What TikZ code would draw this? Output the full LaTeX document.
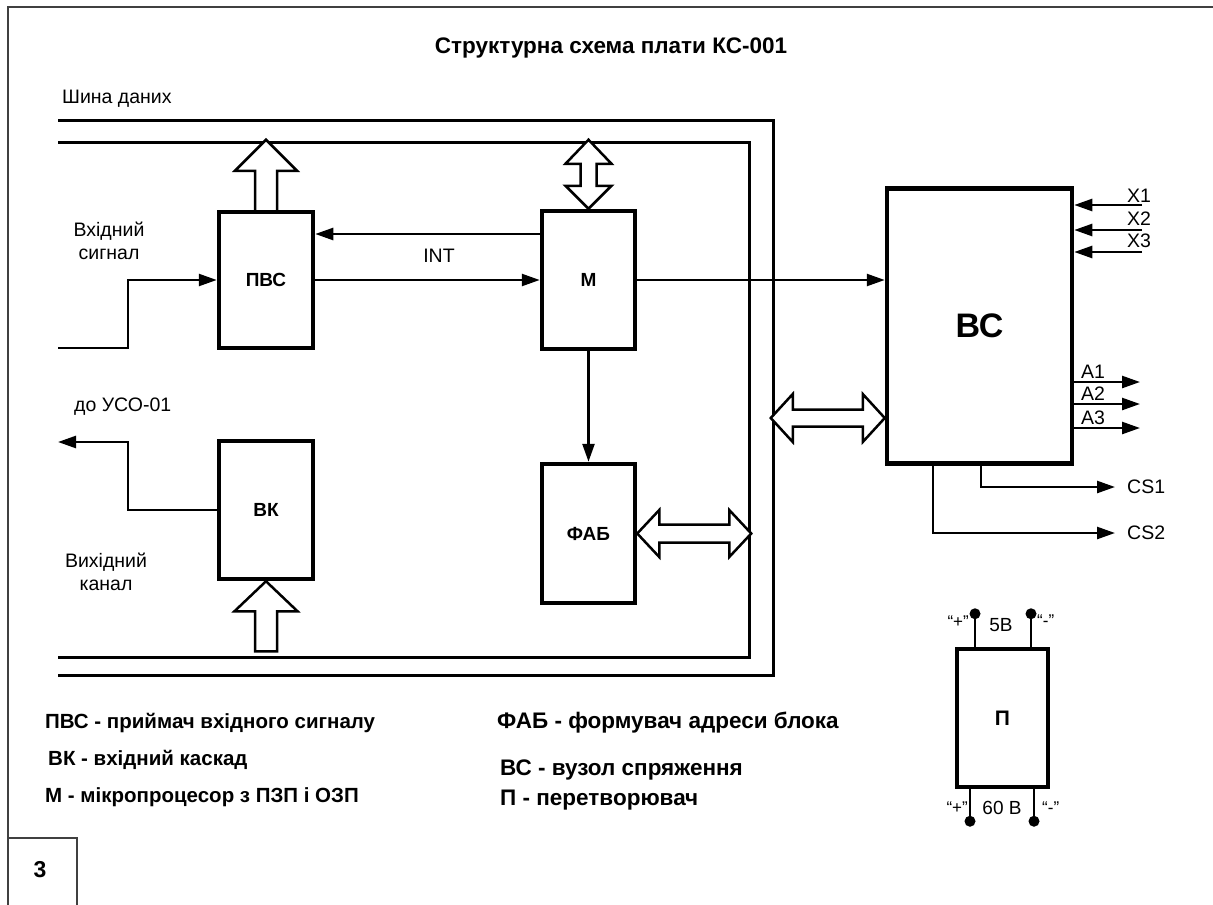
\documentclass[tikz,border=0pt]{standalone}
\usepackage{fontspec}
\setmainfont{Liberation Sans}
\usetikzlibrary{arrows.meta,calc}
\tikzset{
  blk/.style={draw,line width=4.5pt,inner sep=0pt,font=\fontsize{19}{22}\selectfont\bfseries},
  conn/.style={line width=2.5pt},
  sig/.style={line width=2.5pt,-{Triangle[length=18pt,width=12pt]}},
  bus/.style={line width=3pt},
  hol/.style={draw,line width=2.5pt,fill=white,line join=miter},
  txt/.style={inner sep=0pt,font=\fontsize{19.5}{23}\selectfont},
  small/.style={inner sep=0pt,font=\fontsize{19}{22}\selectfont},
  tiny/.style={inner sep=0pt,font=\fontsize{17}{19}\selectfont},
  leg/.style={inner sep=0pt,anchor=west,font=\fontsize{20.5}{24}\selectfont\bfseries},
  legr/.style={inner sep=0pt,anchor=west,font=\fontsize{22.5}{26}\selectfont\bfseries},
  frm/.style={line width=2pt,draw=black!75}
}
\begin{document}
\begin{tikzpicture}[x=1pt,y=-1pt]
\useasboundingbox (0,0) rectangle (1213,905);
% page frame
\draw[frm] (1213,7) -- (8,7) -- (8,905);
\draw[line width=1.2pt,draw=black!75] (8,838) -- (77,838) -- (77,905);
\node[inner sep=0pt,font=\fontsize{23}{26}\selectfont\bfseries] (num) at (40,870) {3};
% title
\node[inner sep=0pt,font=\fontsize{22.5}{26}\selectfont\bfseries] (title) at (611,48) {Структурна схема плати КС-001};
\node[txt,anchor=west] (bustxt) at (62,99) {Шина даних};
% data bus
\draw[bus] (58,120) -| (773,675) -- (58,675);
\draw[bus] (58,142) -| (749,657) -- (58,657);
% blocks
\node[blk,minimum width=94,minimum height=136] (pvs) at (266,280) {ПВС};
\node[blk,minimum width=93,minimum height=138] (m) at (588.5,280) {М};
\node[blk,minimum width=93,minimum height=139] (fab) at (588.5,533.5) {ФАБ};
\node[blk,minimum width=94,minimum height=138] (vk) at (266,510) {ВК};
\node[blk,minimum width=185,minimum height=275,font=\fontsize{34}{38}\selectfont\bfseries] (vs) at (979.5,326) {ВС};
\node[blk,minimum width=91,minimum height=138,font=\fontsize{21}{24}\selectfont\bfseries] (p) at (1002.5,718) {П};
% hollow arrows
\draw[hol] ($(pvs.north)+(-11,0)$) -- ++(0,-39) -- ++(-20,0) -- ($(pvs.north)+(0,-70)$) -- ++(31,31) -- ++(-20,0) -- ($(pvs.north)+(11,0)$);
\draw[hol] (m.north) -- ++(-23,-23) -- ++(15,0) -- ++(0,-22) -- ++(-15,0) -- ++(23,-24) -- ++(23,24) -- ++(-15,0) -- ++(0,22) -- ++(15,0) -- cycle;
\draw[hol] (fab.east) -- ++(22,-23.5) -- ++(0,14.5) -- ++(70,0) -- ++(0,-14.5) -- ++(22,23.5) -- ++(-22,23.5) -- ++(0,-14.5) -- ++(-70,0) -- ++(0,14.5) -- cycle;
\draw[hol] (vs.west |- 0,418) -- ++(-22,-24) -- ++(0,15.5) -- ++(-70,0) -- ++(0,-15.5) -- ++(-22,24) -- ++(22,24) -- ++(0,-15.5) -- ++(70,0) -- ++(0,15.5) -- cycle;
\draw[hol] ($(vk.south)+(-11,70)$) -- ++(0,-40) -- ++(-20.5,0) -- (vk.south) -- ++(31.5,30) -- ++(-20.5,0) -- ++(0,40) -- cycle;
% signal connectors
\coordinate (intA) at ($(m.west)+(0,-46)$);
\draw[sig] (intA) -- (intA -| pvs.east);
\node[txt] (int) at (439,256) {INT};
\draw[sig] (pvs.east) -- (m.west);
\draw[sig] (m.east) -- (m.east -| vs.west);
\draw[sig] (m.south) -- (fab.north);
\coordinate (inS) at (58,348);
\draw[sig] (inS) -- ++(70,0) |- (pvs.west);
\node[txt,align=center] (intxt) at (109,241) {Вхідний\\сигнал};
\coordinate (uso) at (58,442);
\draw[sig] (vk.west) -| ($(uso)+(70,0)$) -- (uso);
\node[txt,anchor=west] (usotxt) at (74,407) {до УСО-01};
\node[txt,align=center] (outtxt) at (106,572) {Вихідний\\канал};
% VS inputs / outputs
\coordinate (x1) at (1142,205);
\coordinate (x2) at (1142,230);
\coordinate (x3) at (1142,252);
\draw[sig] (x1) -- (x1 -| vs.east);
\draw[sig] (x2) -- (x2 -| vs.east);
\draw[sig] (x3) -- (x3 -| vs.east);
\node[txt,anchor=base west] (x1t) at (1127,202) {X1};
\node[txt,anchor=base west] (x2t) at (1127,225) {X2};
\node[txt,anchor=base west] (x3t) at (1127,247) {X3};
\coordinate (a1) at (1140,382);
\coordinate (a2) at (1140,404);
\coordinate (a3) at (1140,428);
\draw[sig] (a1 -| vs.east) -- (a1);
\draw[sig] (a2 -| vs.east) -- (a2);
\draw[sig] (a3 -| vs.east) -- (a3);
\node[txt,anchor=base west] (a1t) at (1081,378) {A1};
\node[txt,anchor=base west] (a2t) at (1081,400) {A2};
\node[txt,anchor=base west] (a3t) at (1081,424) {A3};
\coordinate (cs1) at (1115,487);
\coordinate (cs2) at (1115,533);
\draw[sig] ($(vs.south)+(1.5,0)$) |- (cs1);
\draw[sig] ($(vs.south)+(-46.5,0)$) |- (cs2);
\node[txt,anchor=west] (cs1t) at (1127,487) {CS1};
\node[txt,anchor=west] (cs2t) at (1127,533) {CS2};
% converter terminals
\draw[conn] ($(p.north)+(-27.5,0)$) -- ++(0,-33) coordinate (t1);
\draw[conn] ($(p.north)+(28.5,0)$) -- ++(0,-33) coordinate (t2);
\draw[conn] ($(p.south)+(-32.5,0)$) -- ++(0,32) coordinate (t3);
\draw[conn] ($(p.south)+(31.5,0)$) -- ++(0,32) coordinate (t4);
\fill (t1) circle (5.5);
\fill (t2) circle (5.5);
\fill (t3) circle (5.5);
\fill (t4) circle (5.5);
\node[tiny,anchor=east] (t1l) at (969,622) {“+”};
\node[small] (t12l) at (1001,625) {5В};
\node[tiny,anchor=west] (t2l) at (1037,621) {“-”};
\node[tiny,anchor=east] (t3l) at (968,808) {“+”};
\node[small] (t34l) at (1002,808) {60 В};
\node[tiny,anchor=west] (t4l) at (1042,808) {“-”};
% legend
\node[leg] (l1) at (45,723) {ПВС - приймач вхідного сигналу};
\node[leg] (l2) at (48,760) {ВК - вхідний каскад};
\node[leg] (l3) at (45,797) {М - мікропроцесор з ПЗП і ОЗП};
\node[legr] (l4) at (497,723) {ФАБ - формувач адреси блока};
\node[legr] (l5) at (500,770) {ВС - вузол спряження};
\node[legr] (l6) at (500,800) {П - перетворювач};
\end{tikzpicture}
\end{document}
